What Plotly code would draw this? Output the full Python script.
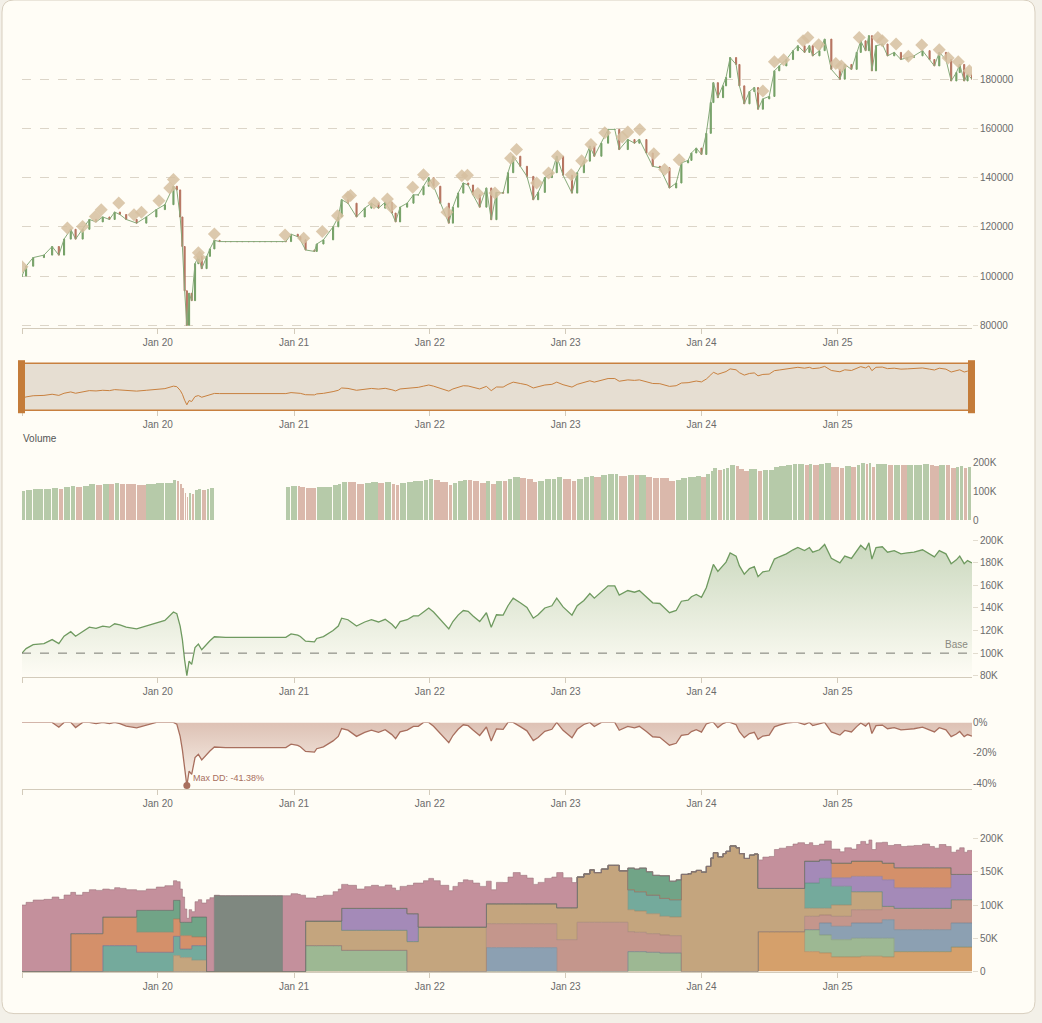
import numpy as np
import plotly.graph_objects as go

W, H = 1042, 1023

# ---------------- data (values in thousands) ----------------
DATES = [
    "2019-01-01", "2019-01-12", "2019-01-31", "2019-03-01", "2019-03-23", "2019-04-10", "2019-04-24",
    "2019-05-12", "2019-05-25", "2019-06-13", "2019-07-01", "2019-07-19", "2019-08-06", "2019-08-24",
    "2019-09-07", "2019-09-21", "2019-10-08", "2019-11-05", "2019-12-01", "2019-12-28",
    "2020-01-20", "2020-02-12", "2020-02-21", "2020-03-01", "2020-03-07", "2020-03-13", "2020-03-19",
    "2020-03-25", "2020-04-01", "2020-04-10", "2020-04-19", "2020-04-28", "2020-05-11", "2020-05-20",
    "2020-06-01", "2020-06-15", "2020-07-01", "2020-07-15", "2020-08-01", "2020-08-15", "2020-09-01",
    "2020-09-15", "2020-10-01", "2020-10-15", "2020-11-01", "2020-11-15", "2020-12-01", "2020-12-10",
    "2020-12-24",
    "2021-01-11", "2021-01-18", "2021-02-01", "2021-02-25", "2021-03-03", "2021-03-21", "2021-04-16",
    "2021-04-30", "2021-05-09", "2021-05-26", "2021-06-18", "2021-07-10", "2021-07-28", "2021-08-16",
    "2021-09-03", "2021-09-21", "2021-10-01", "2021-10-13", "2021-11-01", "2021-11-18", "2021-12-01",
    "2021-12-15", "2021-12-29",
    "2022-01-11", "2022-01-29", "2022-02-21", "2022-03-04", "2022-03-18", "2022-04-01", "2022-04-14",
    "2022-04-27", "2022-05-15", "2022-06-02", "2022-06-15", "2022-06-29", "2022-07-17", "2022-07-30",
    "2022-08-13", "2022-09-01", "2022-09-19", "2022-10-06", "2022-10-19", "2022-11-06", "2022-11-25",
    "2022-12-08", "2022-12-25",
    "2023-01-18", "2023-02-01", "2023-02-19", "2023-03-07", "2023-03-19", "2023-04-07", "2023-04-25",
    "2023-05-13", "2023-05-25", "2023-06-17", "2023-07-05", "2023-07-18", "2023-08-06", "2023-08-23",
    "2023-09-11", "2023-10-07", "2023-10-25", "2023-11-08", "2023-11-26", "2023-12-05", "2023-12-18",
    "2024-01-01", "2024-01-14", "2024-01-26", "2024-02-02", "2024-02-14", "2024-02-28", "2024-03-07",
    "2024-03-18", "2024-04-03", "2024-04-12", "2024-04-25", "2024-05-09", "2024-05-22", "2024-06-01",
    "2024-06-14", "2024-07-01", "2024-07-15", "2024-07-28", "2024-08-16", "2024-09-03", "2024-09-16",
    "2024-10-04", "2024-10-17", "2024-10-26", "2024-11-13", "2024-11-27", "2024-12-15",
    "2025-01-07", "2025-01-20", "2025-02-07", "2025-02-21", "2025-03-04", "2025-03-17", "2025-03-26",
    "2025-04-03", "2025-04-14", "2025-05-01", "2025-05-15", "2025-06-02", "2025-06-20", "2025-07-07",
    "2025-07-25", "2025-08-17", "2025-09-05", "2025-09-18", "2025-10-01", "2025-10-19", "2025-11-02",
    "2025-11-16", "2025-11-25", "2025-12-07", "2025-12-16", "2025-12-28",
]
CLOSE_K = [
    100.0, 104.0, 107.5, 108.5, 112.0, 108.5, 115.0,
    119.0, 115.0, 119.0, 123.0, 122.0, 124.0, 123.0,
    126.0, 125.0, 123.0, 121.5, 124.0, 127.0,
    129.0, 136.5, 135.0, 124.0, 112.0, 94.0, 80.0,
    93.0, 90.0, 105.0, 108.0, 103.0, 108.0, 111.0,
    114.5, 114.0, 114.0, 114.0, 114.0, 114.0, 114.0,
    114.0, 114.0, 114.0, 114.0, 114.0, 114.0, 114.0,
    117.0,
    116.0, 114.7, 110.6, 110.0, 113.0, 114.7, 120.0,
    124.0, 131.0, 129.6, 124.0, 127.6, 129.6, 127.6,
    130.0, 125.6, 122.0, 128.0, 129.6, 133.0, 133.0,
    136.5, 140.0,
    136.5, 129.6, 121.5, 128.0, 133.7, 137.8, 137.0,
    133.0, 128.0, 135.8, 122.9, 134.0, 133.7, 142.0,
    148.7, 144.6, 140.5, 131.0, 134.0, 140.0, 142.0,
    148.7, 141.0,
    133.7, 142.0, 146.7, 152.8, 148.7, 154.0, 159.6,
    159.6, 151.4, 155.5, 154.0, 155.5, 150.0, 144.6,
    144.0, 135.8, 137.8, 146.0, 147.0, 150.0, 152.0,
    149.4, 158.0, 170.5, 178.6, 172.5, 177.3, 180.7,
    188.8, 186.0, 177.3, 170.0, 175.0, 176.6, 167.8,
    172.0, 173.0, 183.4, 185.4, 188.0, 191.6, 193.6,
    190.9, 193.6, 189.5, 191.6, 196.3, 184.0,
    180.0, 186.0, 184.0, 190.9, 195.6, 191.6, 197.7,
    183.4, 193.6, 194.3, 189.5, 190.9, 188.0, 188.8,
    189.5, 191.6, 188.0, 185.4, 190.9, 188.0, 179.3,
    182.7, 186.0, 179.3, 182.0, 180.0,
]

# trade markers (diamonds)
MARK_DATES = [
    "2019-01-01", "2019-05-03", "2019-06-13", "2019-07-17", "2019-08-02", "2019-09-18", "2019-10-29",
    "2019-11-18", "2020-01-04", "2020-02-02", "2020-02-12", "2020-04-19", "2020-04-22", "2020-06-01",
    "2020-12-08", "2021-01-27", "2021-03-18", "2021-04-28", "2021-05-26", "2021-06-02", "2021-08-04",
    "2021-09-09", "2021-09-18", "2021-11-16", "2021-12-15", "2022-01-11", "2022-02-16", "2022-03-28",
    "2022-04-12", "2022-05-10", "2022-06-25", "2022-08-06", "2022-08-22", "2022-10-15", "2022-11-16",
    "2022-12-10", "2023-01-16", "2023-02-13", "2023-03-10", "2023-04-16", "2023-06-02", "2023-06-17",
    "2023-07-19", "2023-08-26", "2023-09-24", "2023-11-02", "2024-06-14", "2024-07-15", "2024-08-09",
    "2024-09-30", "2024-10-13", "2024-11-11", "2024-12-27", "2025-01-11", "2025-02-28", "2025-04-19",
    "2025-05-01", "2025-06-07", "2025-07-10", "2025-08-15", "2025-10-01", "2025-10-25", "2025-11-21",
    "2025-12-21",
]
MARK_K = [
    103.8, 119.5, 120.1, 124.2, 126.9, 129.7, 124.9,
    125.9, 130.6, 135.8, 139.2, 109.5, 107.6, 117.1,
    116.7, 115.4, 118.1, 124.5, 132.1, 132.7, 129.7,
    131.3, 128.3, 136.1, 141.2, 137.6, 125.9, 140.8,
    141.0, 133.5, 133.7, 147.9, 151.4, 137.8, 141.9,
    148.7, 141.2, 146.9, 153.5, 158.2, 156.5, 158.5,
    159.6, 149.7, 143.3, 147.3, 175.2, 187.1, 187.9,
    195.6, 197.0, 194.0, 186.4, 185.4, 197.0, 197.0,
    195.6, 194.3, 189.3, 193.9, 192.0, 188.6, 187.1,
    183.4,
]

# no trading in this window (volume gap)
IDLE_START, IDLE_END = "2020-06-01", "2020-12-09"

# allocation layers (thousands), monthly segments: (first month, values per month)
LAYER_ORDER = ["sand", "lightgreen", "blue", "rose", "tan", "teal", "purple", "orange", "green", "gray", "pink"]
LAYER_COLORS = {
    "sand": "#d5a06b", "lightgreen": "#9db893", "blue": "#8ca0b2", "rose": "#c4968c",
    "tan": "#c4a57e", "teal": "#74aa9c", "purple": "#a48ab8", "orange": "#d4906a",
    "green": "#71a487", "gray": "#7f8880", "pink": "#c4909c",
}
SEGMENTS = {
    "sand": [("2024-06", [60, 60, 60, 60]),
             ("2024-10", [30, 28, 22, 22, 22, 23, 23, 22, 30, 30, 30, 30, 30, 37, 37])],
    "lightgreen": [("2021-02", [39, 39, 39, 32, 32, 32, 32, 32, 32]),
                   ("2023-06", [30, 30, 29, 28, 28]),
                   ("2024-10", [33, 27, 26, 26, 28, 27, 27, 28])],
    "blue": [("2022-06", [36, 36, 36, 36, 36, 36]),
             ("2024-11", [18, 20, 20, 23, 23, 23, 28, 33, 33, 33, 33, 33, 36, 36])],
    "rose": [("2022-06", [36, 36, 36, 36, 36, 36]),
             ("2022-12", [48, 48, 74, 74, 74, 74]),
             ("2023-06", [30, 29, 28, 27, 26]),
             ("2024-10", [20, 12, 15, 15, 20, 20, 20, 20, 32, 32, 32, 32, 32, 35, 35])],
    "tan": [("2020-02", [24, 21, 17]),
            ("2021-02", [37, 37, 37, 30, 30, 30, 30, 30, 30]),
            ("2021-11", [45, 67, 67, 67, 67, 67, 67]),
            ("2022-06", [30, 30, 30, 30, 30, 30]),
            ("2022-12", [48, 48]),
            ("2023-06", [33, 32, 30, 28, 28]),
            ("2024-06", [65, 65, 65, 65]),
            ("2024-10", [12, 10, 17, 17, 27, 27, 27])],
    "teal": [("2019-08", [39, 39, 39, 29, 29, 29, 29, 13, 22]),
             ("2023-06", [30, 29, 28, 27, 26]),
             ("2024-10", [38, 45, 28, 28])],
    "purple": [("2021-05", [33, 33, 33, 33, 33, 33, 42]),
               ("2024-10", [33, 28, 13, 13, 23, 23, 23, 40, 31, 31, 31, 31, 31, 38, 38])],
    "orange": [("2019-05", [57, 57, 57, 43, 43, 43, 30, 30, 30, 26, 20, 13]),
               ("2024-12", [22, 22, 23, 23, 23, 25, 30, 30, 30, 30, 30])],
    "green": [("2019-11", [33, 33, 33, 28, 20, 30])],
    "gray": [],
    "pink": [],
}
# layer that takes the rest of the equity in these months (default: pink / cash)
FILL_RANGES = [("2020-06", "2020-11", "gray"), ("2023-02", "2023-05", "tan"),
               ("2023-06", "2023-10", "green"), ("2023-11", "2024-05", "tan")]

TICK_DATES = ["2019-01-01", "2020-01-01", "2021-01-01", "2022-01-01", "2023-01-01", "2024-01-01", "2025-01-01"]
TICK_TEXT = ["", "Jan 20", "Jan 21", "Jan 22", "Jan 23", "Jan 24", "Jan 25"]
X_RANGE = ["2019-01-01", "2025-12-28"]

PRICE_TICKS = [80000, 100000, 120000, 140000, 160000, 180000]
VOL_TICKS, VOL_TEXT = [0, 100000, 200000], ["0", "100K", "200K"]
EQ_TICKS = [80000, 100000, 120000, 140000, 160000, 180000, 200000]
EQ_TEXT = ["80K", "100K", "120K", "140K", "160K", "180K", "200K"]
DD_TICKS, DD_TEXT = [0, -20, -40], ["0%", "-20%", "-40%"]
ST_TICKS, ST_TEXT = [0, 50000, 100000, 150000, 200000], ["0", "50K", "100K", "150K", "200K"]
BASE_VALUE = 100000

# ---------------- derived series ----------------
close = np.array(CLOSE_K) * 1000.0
opens = np.concatenate([[close[0]], close[:-1]])
highs = np.maximum(opens, close)
lows = np.minimum(opens, close)
up = close >= opens
volume = [None if IDLE_START <= d <= IDLE_END else c for d, c in zip(DATES, close)]
dd = (close / np.maximum.accumulate(close) - 1.0) * 100.0
imin = int(np.argmin(dd))

dts = np.array(DATES, dtype="datetime64[D]")
gaps_days = np.diff(dts).astype(float)
bar_w_ms = list((np.maximum(gaps_days - 2.0, 2.0)) * 86400000.0) + [10 * 86400000.0]


def midx(s):
    return (int(s[:4]) - 2019) * 12 + int(s[5:7]) - 1


monthly = {k: np.zeros(84) for k in LAYER_ORDER}
for k, segs in SEGMENTS.items():
    for start, vals in segs:
        m0 = midx(start)
        for j, v in enumerate(vals):
            monthly[k][m0 + j] = v
fill_layer = ["pink"] * 84
for a, b, k in FILL_RANGES:
    for m in range(midx(a), midx(b) + 1):
        fill_layer[m] = k

stack = {k: [] for k in LAYER_ORDER}
for d, c in zip(DATES, CLOSE_K):
    m = midx(d)
    fl = fill_layer[m]
    s = sum(monthly[k][m] for k in LAYER_ORDER if k != fl)
    for k in LAYER_ORDER:
        v = max(c - s, 0.0) if k == fl else monthly[k][m]
        stack[k].append(v * 1000.0)


def darker(hexc, f=0.8):
    r, g, b = int(hexc[1:3], 16), int(hexc[3:5], 16), int(hexc[5:7], 16)
    return f"rgb({int(r*f)},{int(g*f)},{int(b*f)})"


# ---------------- layout helpers ----------------
X_DOMAIN = [22 / W, 972 / W]


def Y(px):
    # vertical pixel position compensated for the page's rendering
    return (px - 6.0) / 0.9877


def ydom(top_px, bottom_px):
    return [1 - Y(bottom_px) / H, 1 - Y(top_px) / H]


def py_paper(px):
    return 1 - Y(px) / H


FONT = dict(family="Liberation Sans, Arial, sans-serif", size=10, color="#6b6b6b")
AXC = "#d3cbbb"
GRIDC = "#dcd5c8"
UPC, DOWNC = "#74a066", "#b5735f"


def xax(anchor, showline=True, labels=True, visible=True):
    return dict(domain=X_DOMAIN, anchor=anchor, type="date", range=X_RANGE,
                tickvals=TICK_DATES, ticktext=TICK_TEXT, showgrid=False, zeroline=False,
                showline=showline, linecolor=AXC, linewidth=1, ticks="outside", ticklen=5,
                tickcolor=AXC, tickfont=FONT, showticklabels=labels, visible=visible,
                fixedrange=True)


def yax(anchor, dom, rng, tickvals, ticktext=None, grid=False, ticks="outside"):
    d = dict(domain=dom, anchor=anchor, side="right", range=rng, tickvals=tickvals,
             showgrid=grid, gridcolor=GRIDC, griddash="dash", zeroline=False, showline=False,
             ticks=ticks, ticklen=5, tickcolor="#e2dccf", tickfont=FONT, fixedrange=True)
    if ticktext is not None:
        d["ticktext"] = ticktext
    else:
        d["tickformat"] = "d"
    return d


fig = go.Figure()

# main candlestick panel
fig.add_trace(go.Scatter(x=DATES, y=close, mode="lines", line=dict(color="#86a97a", width=1),
                         xaxis="x", yaxis="y", hoverinfo="skip"))
fig.add_trace(go.Candlestick(x=DATES, open=opens, high=highs, low=lows, close=close,
                             increasing=dict(line=dict(color=UPC, width=1), fillcolor=UPC),
                             decreasing=dict(line=dict(color=DOWNC, width=1), fillcolor=DOWNC),
                             whiskerwidth=0, xaxis="x", yaxis="y"))
fig.add_trace(go.Scatter(x=MARK_DATES, y=np.array(MARK_K) * 1000.0, mode="markers",
                         marker=dict(symbol="diamond", size=10, color="rgba(214,192,160,0.85)"),
                         xaxis="x", yaxis="y"))

# range-slider look-alike
fig.add_trace(go.Scatter(x=DATES, y=close, mode="lines", line=dict(color="#c8803f", width=1),
                         xaxis="x2", yaxis="y2"))

# volume
fig.add_trace(go.Bar(x=DATES, y=volume, offset=0, width=bar_w_ms,
                     marker=dict(color=["rgba(122,160,105,0.55)" if u else "rgba(181,115,95,0.5)" for u in up],
                                 line=dict(width=0)),
                     xaxis="x3", yaxis="y3"))

# equity
fig.add_trace(go.Scatter(x=DATES, y=close, mode="lines", line=dict(color="#6f9a60", width=1.3),
                         fill="tozeroy",
                         fillgradient=dict(type="vertical", start=78500, stop=200000,
                                           colorscale=[[0, "rgba(122,160,105,0.0)"],
                                                       [1, "rgba(122,160,105,0.40)"]]),
                         xaxis="x4", yaxis="y4"))

# drawdown
fig.add_trace(go.Scatter(x=DATES, y=dd, mode="lines", line=dict(color="#a86f5e", width=1.3),
                         fill="tozeroy",
                         fillgradient=dict(type="vertical", start=-43.9, stop=0,
                                           colorscale=[[0, "rgba(180,120,100,0.04)"],
                                                       [1, "rgba(180,120,100,0.45)"]]),
                         xaxis="x5", yaxis="y5"))
fig.add_trace(go.Scatter(x=[DATES[imin]], y=[dd[imin]], mode="markers",
                         marker=dict(color="#a86f5e", size=7), xaxis="x5", yaxis="y5"))

# allocation stack
for k in LAYER_ORDER:
    fig.add_trace(go.Scatter(x=DATES, y=stack[k], mode="lines", stackgroup="alloc",
                             line=dict(color=darker(LAYER_COLORS[k]), width=0.6, shape="hv"),
                             fillcolor=LAYER_COLORS[k], xaxis="x6", yaxis="y6"))


# card background
def P(px, py):
    return f"{px / W:.5f},{py_paper(py):.5f}"


x0, y0, x1, y1, r = 2, 0, 1035, 1013, 12
card = (f"M {P(x0 + r, y0)} L {P(x1 - r, y0)} Q {P(x1, y0)} {P(x1, y0 + r)} "
        f"L {P(x1, y1 - r)} Q {P(x1, y1)} {P(x1 - r, y1)} L {P(x0 + r, y1)} "
        f"Q {P(x0, y1)} {P(x0, y1 - r)} L {P(x0, y0 + r)} Q {P(x0, y0)} {P(x0 + r, y0)} Z")

shapes = [
    dict(type="path", path=card, xref="paper", yref="paper", layer="below",
         fillcolor="#fffdf6", line=dict(color="#d8cfbf", width=1)),
    dict(type="rect", xref="x2 domain", yref="y2 domain", x0=0, x1=1, y0=0, y1=1, layer="below",
         fillcolor="#e6ded2", line=dict(color="#c8803f", width=1.5)),
    dict(type="rect", xref="paper", yref="paper", x0=18 / W, x1=25 / W,
         y0=py_paper(413), y1=py_paper(360), fillcolor="#c47c3a", line=dict(width=0)),
    dict(type="rect", xref="paper", yref="paper", x0=968 / W, x1=975 / W,
         y0=py_paper(413), y1=py_paper(360), fillcolor="#c47c3a", line=dict(width=0)),
    dict(type="line", xref="x4 domain", yref="y4", x0=0, x1=1, y0=BASE_VALUE, y1=BASE_VALUE,
         line=dict(color="#7a7a72", width=1, dash="dash")),
]

annotations = [
    dict(text="Volume", xref="paper", yref="paper", x=21 / W, y=py_paper(438), xanchor="left",
         yanchor="middle", showarrow=False, font=dict(FONT, color="#555555")),
    dict(text="Base", xref="paper", yref="y4", x=970 / W, y=BASE_VALUE, xanchor="right",
         yanchor="bottom", yshift=1, showarrow=False, font=dict(FONT, color="#8a8a80")),
    dict(text="Max DD: -41.38%", xref="x5", yref="y5", x=DATES[imin], y=dd[imin], xanchor="left",
         yanchor="middle", xshift=4, yshift=8, showarrow=False,
         font=dict(FONT, size=9, color="#a86f5e")),
]

fig.update_layout(
    width=W, height=H, margin=dict(l=0, r=0, t=0, b=0),
    paper_bgcolor="#f3f0e8", plot_bgcolor="rgba(0,0,0,0)",
    showlegend=False, font=FONT, bargap=0, hovermode=False,
    shapes=shapes, annotations=annotations,
    xaxis=dict(xax("y"), rangeslider=dict(visible=False)),
    yaxis=yax("x", ydom(30, 328), [78800, 200000], PRICE_TICKS, grid=True),
    xaxis2=xax("y2", showline=False),
    yaxis2=dict(domain=ydom(363, 410), anchor="x2", range=[63600, 206000], visible=False, fixedrange=True),
    xaxis3=xax("y3", visible=False),
    yaxis3=yax("x3", ydom(460, 520), [0, 206900], VOL_TICKS, VOL_TEXT, ticks=""),
    xaxis4=xax("y4"),
    yaxis4=yax("x4", ydom(540, 677), [78500, 200000], EQ_TICKS, EQ_TEXT),
    xaxis5=xax("y5"),
    yaxis5=yax("x5", ydom(722, 789), [-43.9, 0], DD_TICKS, DD_TEXT, ticks=""),
    xaxis6=xax("y6"),
    yaxis6=yax("x6", ydom(835, 971), [0, 204500], ST_TICKS, ST_TEXT),
)

fig.write_html("out.html")
